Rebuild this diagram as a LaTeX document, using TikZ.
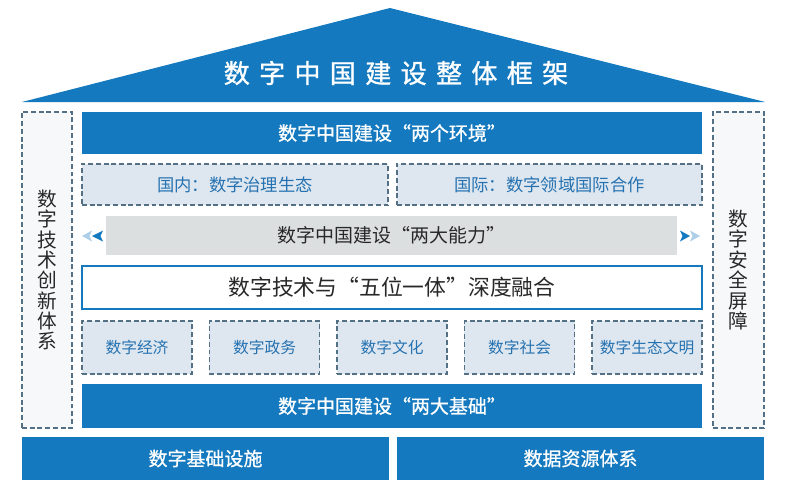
\documentclass[tikz,border=0pt]{standalone}
\usepackage{fontspec}
\setmainfont{Noto Sans CJK SC}
\newfontfamily\titlefont[LetterSpace=36, FakeBold=1.2]{Noto Sans CJK SC}
\newfontfamily\barfont[FakeBold=0.9]{Noto Sans CJK SC}
\usepackage{xcolor}
\definecolor{FrameBlue}{RGB}{20, 121, 190}
\definecolor{PaleBlue}{RGB}{222, 231, 240}
\definecolor{DashGray}{RGB}{84, 112, 132}
\definecolor{LabelBlue}{RGB}{38, 114, 176}
\definecolor{BarGray}{RGB}{220, 223, 224}
\definecolor{SideFill}{RGB}{246, 248, 250}
\definecolor{TextDark}{RGB}{40, 40, 40}

\begin{document}
\begin{tikzpicture}[
    x=0.025cm, y=-0.025cm,
    bluebar/.style={
        fill=FrameBlue, inner sep=0pt, text=white,
        font=\barfont\fontsize{13.5}{14}\selectfont
    },
    palebox/.style={
        draw=DashGray, dash pattern=on 3.5pt off 2pt, line width=0.9pt,
        fill=PaleBlue, inner sep=0pt, text=LabelBlue,
        font=\fontsize{12.3}{13}\selectfont
    },
    sidebox/.style={
        draw=DashGray, dash pattern=on 3.5pt off 2pt, line width=0.9pt,
        fill=SideFill, inner sep=0pt, minimum height=7.9cm,
        align=center, text=TextDark,
        font=\fontsize{14}{14.5}\selectfont
    },
    pillar/.style={
        palebox, minimum width=2.75cm, minimum height=1.325cm,
        font=\fontsize{11.2}{12}\selectfont
    },
]
\useasboundingbox (0,0) rectangle (785,500);

%% Roof
\fill[FrameBlue] (22,102) -- (390,8) -- (765,102) -- cycle;
\node[text=white, font=\titlefont\fontsize{18.5}{19}\selectfont] (title) at (396,73)
    {数字中国建设整体框架};

%% Side columns
\node[sidebox, minimum width=1.25cm] (innov) at (47,270)
    {数\\字\\技\\术\\创\\新\\体\\系};
\node[sidebox, minimum width=1.275cm] (secur) at (738.5,270)
    {数\\字\\安\\全\\屏\\障};

%% Two environments
\node[bluebar, minimum width=15.5cm, minimum height=1.05cm] (env) at (392,133)
    {数字中国建设“两个环境”};
\node[palebox, minimum width=7.65cm, minimum height=1.025cm] (dom) at (235,184.5)
    {国内：数字治理生态};
\node[palebox, minimum width=7.625cm, minimum height=1.025cm] (intl) at (549.5,184.5)
    {国际：数字领域国际合作};

%% Two abilities
\node[fill=BarGray, inner sep=0pt, minimum width=14.275cm, minimum height=0.975cm,
      text=TextDark, font=\fontsize{13.5}{14}\selectfont] (abil) at (391.5,235.5)
    {数字中国建设“两大能力”};
\fill[FrameBlue!35] (82,236) -- (92,230.5) -- (89.5,236) -- (92,241.5) -- cycle;
\fill[FrameBlue] (92,236) -- (103,230.5) -- (100.5,236) -- (103,241.5) -- cycle;
\fill[FrameBlue] (690,236) -- (680,230.5) -- (682.5,236) -- (680,241.5) -- cycle;
\fill[FrameBlue!35] (700,236) -- (690,230.5) -- (692.5,236) -- (690,241.5) -- cycle;

%% Five-in-one
\node[draw=FrameBlue, line width=1.1pt, fill=white, inner sep=0pt,
      minimum width=15.5cm, minimum height=1.075cm,
      text=TextDark, font=\fontsize{15.5}{16}\selectfont] (fuse) at (392,287.5)
    {数字技术与“五位一体”深度融合};
\node[pillar] (econ) at (137,347.5)   {数字经济};
\node[pillar] (gov)  at (264.5,347.5) {数字政务};
\node[pillar] (cult) at (392,347.5)   {数字文化};
\node[pillar] (soc)  at (519.5,347.5) {数字社会};
\node[pillar] (eco)  at (647,347.5)   {数字生态文明};

%% Two foundations
\node[bluebar, minimum width=15.5cm, minimum height=1.1cm] (base) at (392,406)
    {数字中国建设“两大基础”};
\node[bluebar, minimum width=9.175cm, minimum height=1.075cm] (infra) at (205.5,458.5)
    {数字基础设施};
\node[bluebar, minimum width=9.175cm, minimum height=1.075cm] (data) at (580.5,458.5)
    {数据资源体系};

\end{tikzpicture}
\end{document}
